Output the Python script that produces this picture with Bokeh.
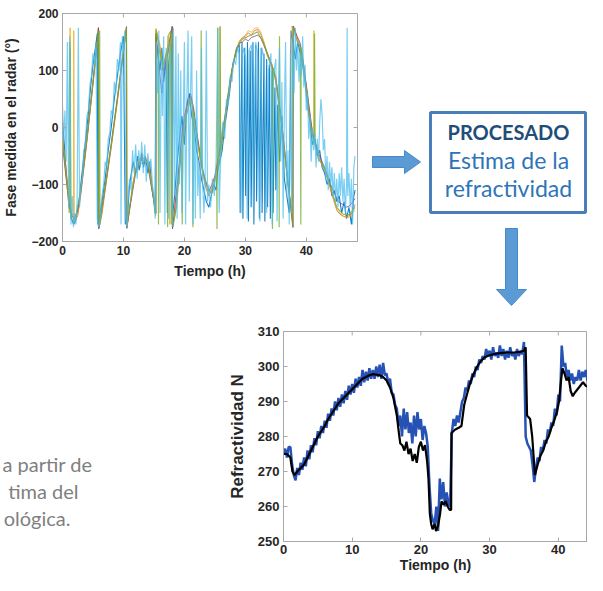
from bokeh.plotting import figure
from bokeh.layouts import row, column
from bokeh.models import Range1d, FixedTicker
from bokeh.core.properties import value
from bokeh.embed import file_html
from bokeh.resources import INLINE
import math

# ---------------- data: radar phase (time h, phase deg) ----------------
phase_xticks = [0, 10, 20, 30, 40]
phase_yticks = [-200, -100, 0, 100, 200]

ph_blue = [(0.0,10),(0.3,-30),(0.6,-80),(0.9,-110),(1.2,-140),(1.5,-160),(1.8,-170),(2.1,-165),(2.4,-150),(2.7,-130),
 (3.0,-100),(3.4,-60),(3.8,-20),(4.2,20),(4.6,70),(5.0,110),(5.4,140),(5.7,165),(5.8,-170),(6.2,-150),(6.6,-120),
 (7.0,-90),(7.5,-40),(8.0,0),(8.5,50),(9.0,90),(9.5,130),(10.0,160),(10.3,-170),(10.7,-150),(11.0,-100),(11.3,-80),
 (11.6,-60),(12.0,-80),(12.3,-50),(12.6,-75),(13.0,-45),(13.3,-70),(13.6,-50),(14.0,-80),(14.3,-60),(14.6,-100),
 (15.0,-130),(15.2,-150),(15.3,160),(15.6,130),(16.0,100),(16.3,140),(16.6,80),(17.0,120),(17.2,-150),(17.4,110),
 (17.8,150),(18.0,-160),(18.4,-120),(18.8,-60),(19.2,-20),(19.6,20),(20.0,-30),(20.4,40),(20.8,60),(21.2,20),(21.6,0),
 (22.0,-40),(22.4,-60),(22.8,-90),(23.2,-110),(23.6,-130),(24.0,-140),(24.4,-120),(24.8,-100),(25.2,-110),(25.5,-70),
 (25.8,-60),(26.2,-40),(26.6,0),(27.0,30),(27.4,60),(27.8,100),(28.2,120),(28.6,140),(29.0,145),(29.15,-150),
 (29.45,150),(29.6,-160),(29.9,140),(30.05,-120),(30.35,150),(30.5,-165),(30.8,135),(30.95,-140),(31.25,150),
 (31.4,-170),(31.7,145),(31.85,-130),(32.15,150),(32.3,-160),(32.6,140),(32.75,-150),(33.05,130),(33.2,-165),
 (33.5,120),(33.65,-140),(33.95,110),(34.1,-160),(34.4,100),(34.55,-150),(34.85,70),(35.0,-110),(35.3,40),
 (35.6,-60),(36.0,20),(36.4,-90),(36.8,-120),(37.2,-150),(37.5,170),(37.8,150),(38.2,120),(38.6,150),(39.0,130),
 (39.4,110),(39.8,80),(40.2,40),(40.6,10),(41.0,-30),(41.4,-20),(41.8,-50),(42.2,-40),(42.6,-70),(43.0,-80),
 (43.4,-100),(43.8,-90),(44.2,-120),(44.6,-110),(45.0,-130),(45.4,-120),(45.8,-150),(46.2,-130),(46.6,-160),
 (47.0,-140),(47.4,-170),(47.8,-120),(48.0,-110)]

ph_orange = [(0,-15),(0.5,-65),(1.0,-120),(1.5,-150),(2.0,-165),(2.5,-155),(3.0,-118),(3.5,-72),(4.0,-25),(4.5,25),
 (5.0,75),(5.5,125),(5.9,175),(5.95,-178),(6.5,-150),(7.0,-110),(8.0,-35),(9.0,45),(10.0,130),(10.5,176),(10.55,-176),
 (11.0,-145),(11.5,-100),(12.0,-75),(12.5,-62),(13.0,-55),(13.5,-54),(14.0,-60),(14.5,-85),(15.0,-125),(15.3,-150),
 (15.35,172),(16.0,140),(16.5,100),(17.0,130),(17.5,150),(18.0,175),(18.05,-175),(18.5,-150),(19.0,-90),(19.5,-30),
 (20.0,10),(20.5,40),(21.0,55),(21.5,30),(22.0,-10),(22.5,-50),(23.0,-80),(23.5,-105),(24.0,-120),(24.5,-110),
 (25.0,-90),(25.5,-60),(26.0,-30),(26.5,0),(27.0,40),(27.5,80),(28.0,110),(28.5,135),(29.0,150),(29.5,158),(30.0,160),
 (30.5,166),(31.0,162),(31.5,170),(32.0,172),(32.5,165),(33.0,150),(33.5,130),(34.0,115),(34.5,100),(35.0,80),
 (35.5,40),(36.0,0),(36.5,-50),(37.0,-100),(37.5,-140),(37.8,-175),(37.85,178),(38.5,158),(39.0,140),(39.5,115),
 (40.0,70),(40.5,25),(41.0,-10),(41.5,-30),(42.0,-50),(42.5,-62),(43.0,-75),(43.5,-90),(44.0,-110),(44.5,-128),
 (45.0,-145),(45.5,-152),(46.0,-155),(46.5,-157),(47.0,-155),(47.5,-150),(48.0,-135)]

ph_yellow = [(0,-25),(0.5,-75),(1.0,-125),(1.2,-140),(1.25,175),(1.35,-145),(1.8,-160),(1.85,170),(1.95,-162),
 (2.5,-150),(3.0,-115),(4.0,-22),(5.0,78),(5.9,172),(5.95,-176),(7.0,-108),(8.0,-32),(9.0,48),(10.0,132),(10.5,176),
 (10.55,-176),(11.0,-140),(12.0,-72),(12.5,-58),(13.0,-50),(13.5,-50),(14.0,-58),(15.0,-127),(15.3,-155),(15.35,174),
 (16.0,145),(16.5,105),(17.0,125),(17.5,160),(17.6,-170),(17.7,165),(18.0,176),(18.05,-176),(19.0,-88),(20.0,8),
 (21.0,52),(22.0,-12),(23.0,-78),(24.0,-118),(25.0,-88),(25.8,-45),(25.85,176),(25.95,-40),(27.0,42),(28.0,112),
 (29.0,152),(30.0,162),(30.5,170),(31.0,167),(31.5,174),(32.0,175),(32.5,168),(33.0,152),(34.0,117),(35.0,82),
 (36.0,2),(37.0,-98),(37.6,-160),(37.65,178),(38.0,165),(39.0,142),(40.0,72),(41.0,-10),(41.2,-20),(41.25,170),
 (41.35,-25),(42.0,-50),(43.0,-74),(44.0,-108),(45.0,-143),(46.0,-156),(47.0,-158),(48.0,-145)]

ph_purple = [(0,-30),(0.5,-80),(1.0,-130),(1.5,-155),(2.0,-160),(2.5,-145),(3.0,-112),(4.0,-20),(5.0,80),(5.9,175),
 (5.95,-177),(7.0,-105),(8.0,-28),(9.0,52),(10.0,135),(10.5,177),(10.55,-177),(11.0,-145),(12.0,-80),(12.5,-68),
 (13.0,-62),(13.5,-62),(14.0,-68),(15.0,-130),(15.3,-150),(15.35,165),(16.0,90),(16.3,60),(16.8,110),(17.3,130),
 (17.8,165),(18.0,178),(18.05,-178),(19.0,-80),(19.5,-20),(20.0,20),(20.5,45),(21.0,60),(21.5,35),(22.0,-5),
 (23.0,-75),(24.0,-112),(24.5,-100),(25.0,-85),(26.0,-25),(27.0,45),(28.0,115),(29.0,148),(29.5,150),(30.0,155),
 (30.5,152),(31.0,158),(31.5,160),(32.0,162),(32.5,158),(33.0,145),(34.0,120),(35.0,88),(36.0,5),(37.0,-95),
 (37.8,-174),(37.85,178),(38.5,160),(39.0,148),(40.0,75),(41.0,-8),(42.0,-45),(43.0,-70),(44.0,-100),(45.0,-125),
 (45.5,-132),(46.0,-135),(46.5,-140),(47.0,-138),(47.5,-132),(48.0,-125)]

ph_green = [(0,-20),(0.5,-70),(1.0,-130),(1.1,-150),(1.15,150),(1.3,130),(1.35,-160),(1.8,-165),(2.3,-150),(3.0,-110),
 (4.0,-20),(5.0,80),(5.9,170),(5.95,-175),(6.1,170),(6.15,-170),(7.0,-105),(8.0,-30),(9.0,50),(10.0,135),(10.5,175),
 (10.55,-175),(11.0,-140),(12.0,-75),(13.0,-57),(14.0,-62),(15.0,-128),(15.3,-152),(15.35,170),(15.7,150),
 (15.75,-170),(15.8,140),(16.5,110),(17.2,135),(17.25,-175),(17.3,160),(17.8,170),(17.85,-170),(17.95,165),
 (18.1,-175),(18.7,-140),(19.5,-40),(19.65,-170),(19.75,-30),(20.3,20),(21.0,50),(21.35,40),(21.4,-175),(21.45,30),
 (22.0,-15),(22.7,-60),(22.75,170),(22.85,-65),(23.5,-100),(24.5,-115),(25.3,-80),(25.35,-178),(25.45,175),
 (25.55,-75),(25.8,-55),(25.85,178),(25.95,-50),(26.5,5),(27.5,85),(28.5,138),(29.5,155),(30.5,160),(31.5,165),
 (32.0,168),(33.0,148),(34.0,118),(34.4,110),(34.45,-178),(34.55,105),(35.0,85),(35.5,45),(35.55,-175),(35.6,160),
 (35.65,40),(36.0,0),(36.5,-50),(37.0,-100),(37.5,-140),(37.8,-176),(37.85,176),(38.5,152),(39.0,142),(39.1,-170),
 (39.15,140),(39.5,115),(40.0,65),(40.5,20),(41.0,-15),(41.3,-25),(41.35,165),(41.45,-30),(42.0,-55),(43.0,-72),
 (44.0,-105),(45.0,-140),(46.0,-152),(47.0,-153),(48.0,-140)]

ph_lightblue = [(0.0,40),(0.2,-20),(0.4,30),(0.6,-60),(0.8,150),(1.0,-140),(1.2,160),(1.4,-170),(1.6,-120),(1.8,-175),
 (2.0,-150),(2.2,-170),(2.4,-130),(2.6,175),(2.8,-140),(3.0,-105),(3.25,-90),(3.5,-40),(3.75,-30),(4.0,20),(4.25,30),
 (4.5,75),(4.75,90),(5.0,130),(5.25,110),(5.5,150),(5.7,-160),(5.9,-175),(6.1,-170),(6.3,-140),(6.5,-120),(6.75,-100),
 (7.0,-60),(7.25,-70),(7.5,-20),(7.75,-10),(8.0,30),(8.25,20),(8.5,80),(8.75,60),(9.0,120),(9.25,100),(9.5,150),
 (9.6,-170),(9.8,160),(10.0,130),(10.2,170),(10.4,-165),(10.6,-175),(10.8,-120),(11.0,-90),(11.25,-110),(11.5,-40),
 (11.75,-80),(12.0,-30),(12.25,-90),(12.5,-40),(12.75,-70),(13.0,-25),(13.25,-80),(13.5,-30),(13.75,-95),(14.0,-45),
 (14.25,-70),(14.5,-55),(14.75,-100),(15.0,-120),(15.2,-160),(15.4,150),(15.6,60),(15.8,170),(16.0,-150),(16.2,120),
 (16.4,20),(16.6,160),(16.8,-170),(17.0,140),(17.2,60),(17.4,-160),(17.6,150),(17.8,100),(18.0,-175),(18.2,175),
 (18.4,-120),(18.6,160),(18.8,-160),(19.0,130),(19.2,-100),(19.4,100),(19.6,-150),(19.8,0),(20.0,150),(20.2,-170),
 (20.4,50),(20.6,170),(20.8,-130),(21.0,60),(21.2,160),(21.4,-170),(21.6,20),(21.8,-160),(22.0,100),(22.2,-120),
 (22.4,-60),(22.6,-160),(22.8,140),(23.0,-100),(23.2,-150),(23.4,-90),(23.6,170),(23.8,-130),(24.0,-100),(24.3,-140),
 (24.6,-90),(24.9,-120),(25.2,-60),(25.5,175),(25.7,-150),(26.0,-30),(26.3,10),(26.6,-20),(26.9,50),(27.2,40),
 (27.5,90),(27.8,80),(28.1,120),(28.4,110),(28.7,140),(29.0,130),(29.3,-150),(29.6,140),(30.0,125),(30.3,-160),
 (30.6,135),(31.0,145),(31.3,-140),(31.7,150),(32.0,130),(32.4,-165),(32.7,140),(33.1,120),(33.5,-150),(33.8,100),
 (34.2,130),(34.4,-170),(34.6,90),(35.0,120),(35.2,-165),(35.4,60),(35.6,140),(35.8,-60),
 (36.0,80),(36.2,-160),(36.4,30),(36.6,150),(36.8,-120),(37.0,-40),(37.2,-170),(37.4,130),(37.6,-150),(37.8,160),
 (38.0,60),(38.2,175),(38.4,100),(38.6,150),(38.8,80),(39.0,130),(39.2,90),(39.4,160),(39.6,70),(39.8,110),(40.0,30),
 (40.2,60),(40.4,-20),(40.6,20),(40.8,-60),(41.0,0),(41.2,-40),(41.4,-10),(41.6,-70),(41.8,-20),(42.0,-60),(42.2,10),
 (42.4,50),(42.6,20),(42.8,-40),(43.0,-20),(43.2,-90),(43.4,-50),(43.6,-110),(43.8,-60),(44.0,-100),(44.2,-70),
 (44.4,-120),(44.6,-80),(44.8,-130),(45.0,-90),(45.2,-140),(45.4,-80),(45.6,-120),(45.8,-70),(46.0,-130),(46.2,-90),
 (46.4,-150),(46.6,-100),(46.7,175),(46.8,-120),(47.0,-80),(47.2,-140),(47.4,-90),(47.6,-170),(47.8,-70),(48.0,-50)]

# ---------------- data: refractivity (time h, N) ----------------
refr_xticks = [0, 10, 20, 30, 40]
refr_yticks = [250, 260, 270, 280, 290, 300, 310]

# estimated refractivity, one value every 0.25 h from 0 h to 48 h
refr_est = [275, 276.5, 274, 277, 277, 272, 269, 267.5, 271, 269, 272.5, 270.5, 274, 271.5, 276, 273.5,
 277.5, 275.5, 279.5, 277.5, 281.5, 279.5, 283, 281, 284.5, 282.5, 286.5, 284.5, 288, 286, 290, 287.5,
 291, 288.5, 292, 289.5, 293, 290.5, 294.5, 292, 295, 292.5, 296.5, 294, 297, 294.5, 299, 295.5,
 298.5, 296, 299.5, 296.5, 299, 296.5, 300, 297, 300.5, 296.5, 301, 297.5, 298, 295, 296.5, 292.5,
 292, 289, 288, 283, 286, 280, 288, 282, 287, 281, 284, 278, 286, 280, 287, 282,
 285, 279, 283, 281, 277, 266, 258, 256, 255, 260, 253, 268, 262, 267, 260, 264,
 261, 260, 281, 285, 283, 286, 284, 287, 290, 291, 294, 293, 296, 295, 298, 297,
 300, 299, 302, 301, 303, 302, 305, 303, 304.5, 302, 305.5, 303, 304, 302.5, 306, 303,
 305, 302, 304.5, 302.5, 305.5, 303, 304, 302, 305, 303, 304.5, 303.5, 307, 280, 278, 277,
 276, 272, 267, 271, 274, 273, 277, 276, 279, 278, 282, 281, 284, 283, 288, 286,
 292, 290, 306, 300, 301, 297, 299, 296, 298, 295, 297, 296, 299, 296, 298.5, 297,
 299, 296, 298, 295.5, 297, 295, 296.5, 294.5, 296, 294, 295.5, 293.5, 295, 293.5, 294.5, 293,
 294]

# meteorological reference refractivity (time h, N)
refr_ref = [(0,275),(0.5,275),(1.0,274),(1.3,270),(1.6,269),(2.0,270),(2.5,271),(3.0,272),(3.5,274),(4.0,276),
 (4.5,278),(5.0,280),(5.5,281.5),(6.0,283),(6.5,285),(7.0,286.5),(7.5,288),(8.0,289.5),(8.5,290.5),(9.0,291.5),
 (9.5,292.5),(10.0,293.5),(10.5,294.5),(11.0,295.5),(11.5,296.5),(12.0,297),(12.5,297.5),(13.0,297.8),(13.5,297.7),
 (14.0,297.5),(14.5,297),(15.0,296),(15.5,294),(16.0,291),(16.5,286),(16.8,281),(17.0,278),(17.3,277.5),(17.6,276),
 (17.9,278.5),(18.2,275),(18.5,276.5),(18.8,273),(19.1,275),(19.4,272.5),(19.7,277),(20.0,278.5),(20.3,276),
 (20.6,277.5),(20.9,273),(21.1,268),(21.3,258),(21.5,255),(21.7,253.5),(22.0,255),(22.2,253),(22.5,254.5),
 (22.8,258),(23.0,261.5),(23.3,260.5),(23.6,261.5),(23.9,260),(24.2,259),(24.4,259),(24.45,281),(25.0,282),
 (25.5,282.5),(25.9,283),(26.3,289),(26.7,292),(27.2,295.5),(27.7,298),(28.2,300),(28.7,301.5),(29.2,302.5),
 (29.7,303),(30.5,303.5),(31.5,303.8),(32.5,304),(33.5,304),(34.5,304.2),(35.0,304.5),(35.25,305.5),(35.45,286),
 (35.9,285),(36.2,280),(36.6,269),(37.0,272),(37.4,274.5),(37.8,276),(38.2,278.5),(38.6,280),(39.0,282.5),
 (39.4,284.5),(39.8,287),(40.1,290),(40.4,296),(40.6,299.5),(40.9,298),(41.2,296),(41.5,297),(41.8,293),
 (42.1,291.5),(42.4,292.5),(42.8,293.5),(43.2,294.5),(43.6,295.5),(44.0,294.5),(44.5,294),(45.0,293),(45.5,292.5),
 (46.0,292),(46.5,291.5),(47.0,291),(48.0,290.5)]

# ---------------- texts ----------------
box_lines = ["PROCESADO", "Estima de la", "refractividad"]
side_lines = ["a partir de", "tima del", "ológica."]

AX_FONT = "Liberation Sans"
AX_GREY = "#a8a8a8"
LBL = "#262626"


def unzip(pairs):
    return [p[0] for p in pairs], [p[1] for p in pairs]


def style_axis(ax, tick_size, label_size):
    ax.axis_line_color = AX_GREY
    ax.major_tick_line_color = AX_GREY
    ax.major_tick_in = 4
    ax.major_tick_out = 0
    ax.minor_tick_line_color = None
    ax.major_label_text_font = AX_FONT
    ax.major_label_text_font_style = "bold"
    ax.major_label_text_color = LBL
    ax.major_label_text_font_size = tick_size
    ax.axis_label_text_font = AX_FONT
    ax.axis_label_text_font_style = "bold"
    ax.axis_label_text_color = LBL
    ax.axis_label_text_font_size = label_size


def blank(fig):
    fig.grid.visible = False
    fig.outline_line_color = None
    fig.background_fill_color = "white"
    fig.border_fill_color = "white"
    fig.frame_align = False


# ---------------- phase plot ----------------
X1_END = 48.4
p1 = figure(width=362, height=306, x_range=Range1d(0, X1_END), y_range=Range1d(-200, 200),
            output_backend="svg", toolbar_location=None,
            min_border_left=62, min_border_right=5, min_border_top=13, min_border_bottom=65)
blank(p1)
p1.outline_line_color = AX_GREY
p1.xaxis.ticker = FixedTicker(ticks=phase_xticks)
p1.yaxis.ticker = FixedTicker(ticks=phase_yticks)
p1.xaxis.axis_label = "Tiempo (h)"
p1.yaxis.axis_label = "Fase medida en el radar (°)"
style_axis(p1.xaxis[0], "12px", "14px")
style_axis(p1.yaxis[0], "12px", "14px")
p1.xaxis.major_label_standoff = 4
p1.xaxis.axis_label_standoff = 5
p1.yaxis.major_label_standoff = 4
p1.yaxis.axis_label_standoff = 9

# MATLAB default colour order, drawn in that order
series = [(ph_blue, "#0072BD", 1.1, 0.9), (ph_orange, "#D95319", 0.9, 0.8), (ph_yellow, "#EDB120", 1.0, 0.8),
          (ph_purple, "#7E2F8E", 0.9, 0.8), (ph_green, "#77AC30", 1.2, 0.8), (ph_lightblue, "#4DBEEE", 1.2, 0.75)]
for data, col, lw, al in series:
    xs, ys = unzip(data)
    p1.line(xs, ys, line_color=col, line_width=lw, line_alpha=al)

# inward ticks on the top and right edges (box style)
top_t = [t for t in phase_xticks if 0 < t < X1_END]
p1.scatter(top_t, [phase_yticks[-1]] * len(top_t), marker="dash", angle=math.pi / 2, size=8,
           line_color=AX_GREY, line_width=1)
right_t = phase_yticks[1:-1]
p1.scatter([X1_END] * len(right_t), right_t, marker="dash", size=8, line_color=AX_GREY, line_width=1)

# ---------------- diagram canvas (arrows + box) ----------------
c1 = figure(width=225, height=306, x_range=Range1d(362, 587), y_range=Range1d(306, 0),
            output_backend="svg", toolbar_location=None, x_axis_location=None, y_axis_location=None,
            min_border=0)
blank(c1)
ARROW_FILL = "#5B9BD5"
ARROW_LINE = "#4A88C8"
c1.patch([372, 404, 404, 420, 404, 404, 372], [156, 156, 150, 161.5, 173, 167, 167],
         fill_color=ARROW_FILL, line_color=ARROW_LINE, line_width=1)
c1.patch([505, 517, 517, 526, 511, 496, 505], [228, 228, 289, 289, 305, 289, 289],
         fill_color=ARROW_FILL, line_color=ARROW_LINE, line_width=1)
c1.quad(left=[430], right=[585], top=[112], bottom=[212], fill_color=None,
        line_color="#4A7EBB", line_width=3)
c1.text(x=[508], y=[131], text=[box_lines[0]], text_font=value("Lato"), text_font_size="20px",
        text_font_style="bold", text_color="#1F4E79", text_align="center", text_baseline="middle")
c1.text(x=[508, 508], y=[159, 187], text=box_lines[1:], text_font=value("Lato"), text_font_size="23px",
        text_color="#2E75B6", text_align="center", text_baseline="middle")

# ---------------- side text canvas ----------------
c2 = figure(width=218, height=269, x_range=Range1d(0, 218), y_range=Range1d(575, 306),
            output_backend="svg", toolbar_location=None, x_axis_location=None, y_axis_location=None,
            min_border=0)
blank(c2)
c2.text(x=[92, 78, 70], y=[463, 490, 517], text=side_lines, text_font=value("Lato"), text_font_size="20px",
        text_color="#7F7F7F", text_align="right", text_baseline="middle")

# ---------------- refractivity plot ----------------
X2_END = 44.25
p2 = figure(width=369, height=269, x_range=Range1d(0, X2_END), y_range=Range1d(250, 310),
            output_backend="svg", toolbar_location=None,
            min_border_left=65, min_border_right=0, min_border_top=25, min_border_bottom=34)
blank(p2)
p2.outline_line_color = AX_GREY
p2.xaxis.ticker = FixedTicker(ticks=refr_xticks)
p2.yaxis.ticker = FixedTicker(ticks=refr_yticks)
p2.xaxis.axis_label = "Tiempo (h)"
p2.yaxis.axis_label = "Refractividad N"
style_axis(p2.xaxis[0], "13px", "14px")
style_axis(p2.yaxis[0], "13px", "17px")
p2.xaxis.major_label_standoff = 3
p2.xaxis.axis_label_standoff = 0
p2.yaxis.major_label_standoff = 4
p2.yaxis.axis_label_standoff = 8

t_est = [i * 0.25 for i in range(len(refr_est))]
p2.line(t_est, refr_est, line_color="#2651B5", line_width=2.5)
rx, ry = unzip(refr_ref)
p2.line(rx, ry, line_color="#000000", line_width=2.2)
top_t2 = [t for t in refr_xticks if 0 < t < X2_END]
p2.scatter(top_t2, [refr_yticks[-1]] * len(top_t2), marker="dash", angle=math.pi / 2, size=8,
           line_color=AX_GREY, line_width=1)

layout = column(row(p1, c1), row(c2, p2))
open("out.html", "w").write(file_html(layout, INLINE))
